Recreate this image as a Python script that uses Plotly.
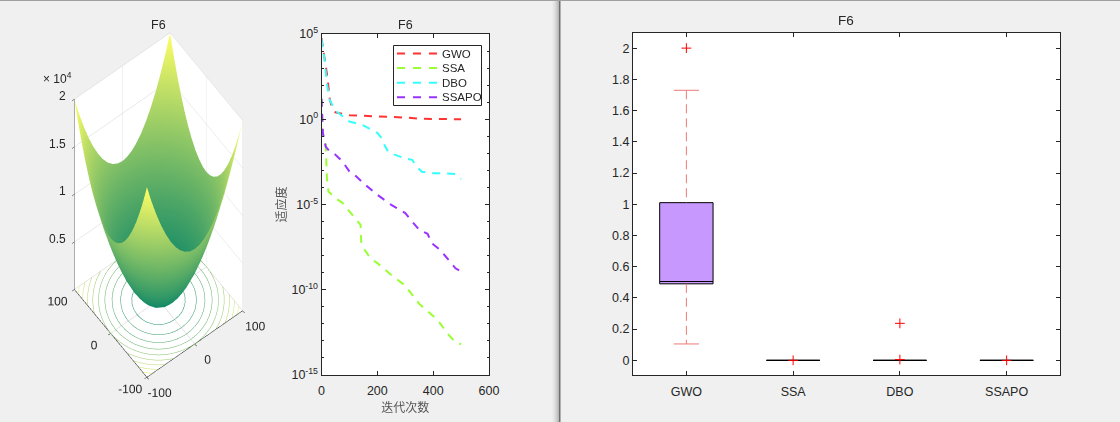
import plotly.graph_objects as go

BG = "#f0f0f0"
FONT = "Liberation Sans, Arial, sans-serif"
W, H = 1120, 422

# ---------- data ----------
surf_axis = [-100,-90,-80,-70,-60,-50,-40,-30,-20,-10,0,10,20,30,40,50,60,70,80,90,100]
surf_z = [
[20000,18100,16400,14900,13600,12500,11600,10900,10400,10100,10000,10100,10400,10900,11600,12500,13600,14900,16400,18100,20000],
[18100,16200,14500,13000,11700,10600,9700,9000,8500,8200,8100,8200,8500,9000,9700,10600,11700,13000,14500,16200,18100],
[16400,14500,12800,11300,10000,8900,8000,7300,6800,6500,6400,6500,6800,7300,8000,8900,10000,11300,12800,14500,16400],
[14900,13000,11300,9800,8500,7400,6500,5800,5300,5000,4900,5000,5300,5800,6500,7400,8500,9800,11300,13000,14900],
[13600,11700,10000,8500,7200,6100,5200,4500,4000,3700,3600,3700,4000,4500,5200,6100,7200,8500,10000,11700,13600],
[12500,10600,8900,7400,6100,5000,4100,3400,2900,2600,2500,2600,2900,3400,4100,5000,6100,7400,8900,10600,12500],
[11600,9700,8000,6500,5200,4100,3200,2500,2000,1700,1600,1700,2000,2500,3200,4100,5200,6500,8000,9700,11600],
[10900,9000,7300,5800,4500,3400,2500,1800,1300,1000,900,1000,1300,1800,2500,3400,4500,5800,7300,9000,10900],
[10400,8500,6800,5300,4000,2900,2000,1300,800,500,400,500,800,1300,2000,2900,4000,5300,6800,8500,10400],
[10100,8200,6500,5000,3700,2600,1700,1000,500,200,100,200,500,1000,1700,2600,3700,5000,6500,8200,10100],
[10000,8100,6400,4900,3600,2500,1600,900,400,100,0,100,400,900,1600,2500,3600,4900,6400,8100,10000],
[10100,8200,6500,5000,3700,2600,1700,1000,500,200,100,200,500,1000,1700,2600,3700,5000,6500,8200,10100],
[10400,8500,6800,5300,4000,2900,2000,1300,800,500,400,500,800,1300,2000,2900,4000,5300,6800,8500,10400],
[10900,9000,7300,5800,4500,3400,2500,1800,1300,1000,900,1000,1300,1800,2500,3400,4500,5800,7300,9000,10900],
[11600,9700,8000,6500,5200,4100,3200,2500,2000,1700,1600,1700,2000,2500,3200,4100,5200,6500,8000,9700,11600],
[12500,10600,8900,7400,6100,5000,4100,3400,2900,2600,2500,2600,2900,3400,4100,5000,6100,7400,8900,10600,12500],
[13600,11700,10000,8500,7200,6100,5200,4500,4000,3700,3600,3700,4000,4500,5200,6100,7200,8500,10000,11700,13600],
[14900,13000,11300,9800,8500,7400,6500,5800,5300,5000,4900,5000,5300,5800,6500,7400,8500,9800,11300,13000,14900],
[16400,14500,12800,11300,10000,8900,8000,7300,6800,6500,6400,6500,6800,7300,8000,8900,10000,11300,12800,14500,16400],
[18100,16200,14500,13000,11700,10600,9700,9000,8500,8200,8100,8200,8500,9000,9700,10600,11700,13000,14500,16200,18100],
[20000,18100,16400,14900,13600,12500,11600,10900,10400,10100,10000,10100,10400,10900,11600,12500,13600,14900,16400,18100,20000],
]
summer = [[0, "#008066"], [0.5, "#80bf66"], [1, "#ffff66"]]
contour_levels = [2000, 4000, 6000, 8000, 10000, 12000, 14000, 16000, 18000]
contour_colors = ["#1a8d66", "#339966", "#4da666", "#66b366", "#80bf66", "#99cc66", "#b3d966", "#cce666", "#e6f266"]

gwo_x = [0,10,20,30,35,50,100,150,200,250,300,350,400,450,500]
gwo_log = [4.76,3.8,2.6,1.15,0.85,0.4,0.24,0.2,0.17,0.15,0.1,0.03,0.01,0.01,0.0]
ssa_x = [0,5,15,20,25,50,75,100,125,140,142,150,175,200,250,300,325,350,400,425,450,480,500]
ssa_log = [1.2,-0.9,-1.5,-3.65,-4.24,-4.63,-4.9,-5.4,-5.94,-6.2,-7.17,-7.54,-8.15,-8.44,-9.13,-9.76,-10.3,-10.83,-11.54,-11.97,-12.55,-13.08,-13.2]
dbo_x = [0,10,20,30,50,100,150,200,215,225,240,300,325,340,360,400,450,480,500]
dbo_log = [4.7,3.6,2.0,1.1,0.5,-0.13,-0.36,-0.8,-1.1,-1.5,-1.95,-2.3,-2.38,-2.77,-3.08,-3.16,-3.18,-3.22,-3.5]
ssapo_x = [0,5,15,30,50,75,100,125,150,200,250,300,325,350,380,395,425,450,480,500]
ssapo_log = [1.2,-0.81,-1.6,-1.9,-2.08,-2.48,-3.06,-3.36,-3.75,-4.43,-5.02,-5.5,-6.0,-6.49,-6.72,-7.27,-7.66,-8.15,-8.74,-8.93]

methods = ["GWO", "SSA", "DBO", "SSAPO"]
curve_colors = ["#ff3333", "#99ff33", "#33ffff", "#9933ff"]
q1 = [0.49, 0.0, 0.0, 0.0]
median = [0.505, 0.0, 0.0, 0.0]
q3 = [1.01, 0.0, 0.0, 0.0]
whisker_low = [0.105]
whisker_high = [1.73]
outlier_x = ["GWO", "SSA", "DBO", "DBO", "SSAPO"]
outlier_y = [2.0, 0.0, 0.237, 0.005, 0.0]
log_tickvals = [1e5, 1e0, 1e-5, 1e-10, 1e-15]
log_ticktext = ["10<sup>5</sup>", "10<sup>0</sup>", "10<sup>-5</sup>", "10<sup>-10</sup>", "10<sup>-15</sup>"]
z_tickvals = [5000, 10000, 15000, 20000]
z_ticktext = ["0.5", "1", "1.5", "2"]
xy_tickvals = [-100, 0, 100]
xy_ticktext = ["-100", "0", "100"]

# ---------- figure ----------
fig = go.Figure()

fig.add_trace(go.Surface(
    x=surf_axis, y=surf_axis, z=surf_z, colorscale=summer, cmin=0, cmax=20000,
    showscale=False, scene="scene",
    lighting=dict(ambient=1, diffuse=0, specular=0, roughness=1, fresnel=0),
    contours=dict(x=dict(highlight=False), y=dict(highlight=False), z=dict(highlight=False)),
))
# floor rings: the same field squashed onto the bottom of the box, one trace per level
SQUASH = 0.002
for level, col in zip(contour_levels, contour_colors):
    fig.add_trace(go.Surface(
        x=surf_axis, y=surf_axis, z=[[v * SQUASH for v in row] for row in surf_z],
        hidesurface=True, showscale=False, colorscale=summer, scene="scene",
        contours=dict(
            x=dict(highlight=False), y=dict(highlight=False),
            z=dict(show=True, start=level * SQUASH, end=level * SQUASH + 0.5, size=1,
                   color=col, width=2, highlight=False),
        ),
    ))

LINE_STYLE = "8px,7px"
for name, xs, logs, col in zip(methods, [gwo_x, ssa_x, dbo_x, ssapo_x],
                               [gwo_log, ssa_log, dbo_log, ssapo_log], curve_colors):
    fig.add_trace(go.Scatter(
        x=xs, y=[10 ** v for v in logs], mode="lines", name=name, showlegend=False,
        line=dict(color=col, width=2, dash=LINE_STYLE), xaxis="x", yaxis="y",
    ))

fig.add_trace(go.Box(
    x=methods, q1=q1, median=median, q3=q3, lowerfence=q1, upperfence=q3,
    width=0.5, whiskerwidth=0, fillcolor="#c799ff", boxpoints=False,
    line=dict(color="#000000", width=1), xaxis="x2", yaxis="y2", showlegend=False,
))
WH = "#f07878"
for lo, hi in [(whisker_high[0], q3[0]), (q1[0], whisker_low[0])]:
    fig.add_trace(go.Scatter(
        x=[methods[0], methods[0]], y=[lo, hi], mode="lines", showlegend=False,
        line=dict(color=WH, width=1, dash="9px,5px"), xaxis="x2", yaxis="y2",
    ))
fig.add_trace(go.Scatter(
    x=[methods[0], methods[0]], y=[whisker_low[0], whisker_high[0]], mode="markers",
    showlegend=False, xaxis="x2", yaxis="y2",
    marker=dict(symbol="line-ew", size=18, line=dict(color=WH, width=1)),
))
fig.add_trace(go.Scatter(
    x=outlier_x, y=outlier_y, mode="markers", showlegend=False, xaxis="x2", yaxis="y2",
    marker=dict(symbol="cross-thin", size=7, line=dict(color="#ff0000", width=1)),
))

axis3d = dict(
    showbackground=True, backgroundcolor="#ffffff", gridcolor="#d4d4d4", gridwidth=1,
    showline=True, linecolor="#262626", linewidth=1, zeroline=False, showspikes=False,
    ticks="outside", ticklen=3, tickcolor="#262626", tickangle=0,
    tickfont=dict(family=FONT, size=12, color="#262626"), title=dict(text=""),
)
DX = lambda a, b: [a / W, b / W]
DY = lambda top, bot: [1 - bot / H, 1 - top / H]
frame = dict(showline=True, linecolor="#262626", linewidth=1, mirror="ticks", ticks="inside",
             tickcolor="#262626", ticklen=4, zeroline=False, showgrid=False, automargin=False,
             tickfont=dict(family=FONT, size=12.5, color="#262626"))

shapes = []
for i, c in enumerate(["#ececec", "#e7e7e7", "#e1e1e1", "#d9d9d9", "#cfcfcf", "#c4c4c4", "#b8b8b8"]):
    shapes.append(dict(type="rect", xref="paper", yref="paper", x0=(552 + i) / W, x1=(553 + i) / W,
                       y0=0, y1=1, fillcolor=c, line=dict(width=0), layer="below"))
shapes.append(dict(type="rect", xref="paper", yref="paper", x0=559 / W, x1=560.5 / W, y0=0, y1=1,
                   fillcolor="#6e6e6e", line=dict(width=0), layer="below"))
shapes.append(dict(type="rect", xref="paper", yref="paper", x0=0, x1=1, y0=1 - 1 / H, y1=1,
                   fillcolor="#a0a0a0", line=dict(width=0), layer="below"))
shapes.append(dict(type="rect", xref="paper", yref="paper", x0=393.5 / W, x1=481.5 / W,
                   y0=1 - 105.5 / H, y1=1 - 45.5 / H, fillcolor="#ffffff",
                   line=dict(color="#262626", width=1), layer="above"))


def label(text, x, y, size, anchor="center"):
    return dict(text=text, x=x / W, y=1 - y / H, xref="paper", yref="paper", showarrow=False,
                xanchor=anchor, yanchor="middle", font=dict(family=FONT, size=size, color="#262626"))


annotations = [
    label("F6", 158, 25, 12.5),
    label("F6", 405, 25, 12.5),
    label("F6", 846, 20, 13.5),
    label("× 10<sup>4</sup>", 57, 78, 12),
]
for i, (name, col) in enumerate(zip(methods, curve_colors)):
    yy = 53.5 + 14.6 * i
    shapes.append(dict(type="line", xref="paper", yref="paper", x0=397 / W, x1=437 / W,
                       y0=1 - yy / H, y1=1 - yy / H, line=dict(color=col, width=2, dash="8px,8px"),
                       layer="above"))
    annotations.append(label(name, 440, yy, 11.5, "left"))

z_labels = [dict(x=-100, y=100, z=v, text=t, showarrow=False, xanchor="right", yanchor="middle",
                 xshift=-6, yshift=3, font=dict(family=FONT, size=12, color="#262626"))
            for v, t in zip(z_tickvals, z_ticktext)]

fig.update_layout(
    width=W, height=H, margin=dict(l=0, r=0, t=0, b=0, autoexpand=False),
    paper_bgcolor=BG, plot_bgcolor="#ffffff", font=dict(family=FONT, color="#262626"),
    showlegend=False,
    scene=dict(
        domain=dict(x=DX(0, 317), y=DY(0, 410)),
        aspectmode="manual", aspectratio=dict(x=0.586, y=0.586, z=2.326),
        camera=dict(eye=dict(x=-1.19, y=-1.57, z=4.53), up=dict(x=0, y=0, z=1),
                    center=dict(x=0, y=0, z=0), projection=dict(type="orthographic")),
        xaxis=dict(axis3d, range=[-100, 100], tickvals=xy_tickvals, ticktext=xy_ticktext),
        yaxis=dict(axis3d, range=[-100, 100], tickvals=xy_tickvals, ticktext=xy_ticktext),
        zaxis=dict(axis3d, range=[0, 20000], tickvals=z_tickvals, showticklabels=False),
        annotations=z_labels,
    ),
    xaxis=dict(frame, anchor="y", domain=DX(321.5, 489), range=[0, 600], tickvals=[0, 200, 400, 600],
               ticklabelstandoff=4,
               title=dict(text="迭代次数", standoff=6,
                          font=dict(family="Noto Sans CJK SC", size=12, color="#555555"))),
    yaxis=dict(frame, anchor="x", domain=DY(34, 375), type="log", range=[-15, 5],
               tickvals=log_tickvals, ticktext=log_ticktext,
               minor=dict(dtick=1, ticks="inside", ticklen=2, tickcolor="#262626"),
               title=dict(text="适应度", standoff=2,
                          font=dict(family="Noto Sans CJK SC", size=12, color="#555555"))),
    xaxis2=dict(frame, anchor="y2", domain=DX(633, 1060), range=[-0.5, 3.5], type="category",
                categoryorder="array", categoryarray=methods, ticklabelstandoff=5),
    yaxis2=dict(frame, anchor="x2", domain=DY(33, 375), range=[-0.094, 2.097],
                tickvals=[0, 0.2, 0.4, 0.6, 0.8, 1, 1.2, 1.4, 1.6, 1.8, 2],
                ticktext=["0", "0.2", "0.4", "0.6", "0.8", "1", "1.2", "1.4", "1.6", "1.8", "2"]),
    annotations=annotations,
    shapes=shapes,
)

fig.write_html("out.html", config=dict(displayModeBar=False),
               post_script="document.body.style.margin='0';")
